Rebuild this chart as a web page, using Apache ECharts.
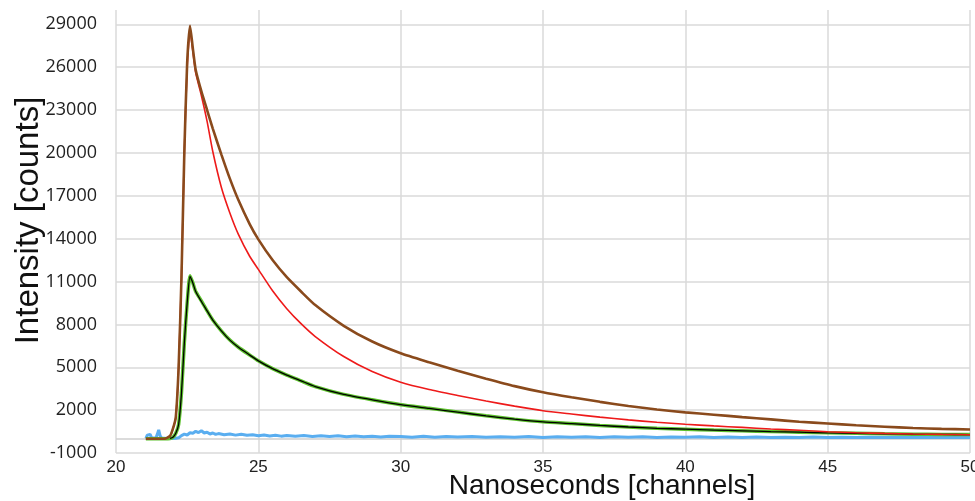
<!DOCTYPE html>
<html>
<head>
<meta charset="utf-8">
<title>Intensity decay</title>
<script src="https://cdn.jsdelivr.net/npm/echarts@6.0.0/dist/echarts.min.js"></script>
<style>
  html, body { margin: 0; padding: 0; background: #fff; }
  #decay { width: 975px; height: 501px; }
</style>
</head>
<body>
<div id="decay"></div>
<script>
// time axis (ns) shared by the brown, red, green and fit curves
var ns = [21.05, 21.4, 21.7, 21.9, 22.0, 22.1, 22.2, 22.3, 22.4, 22.5, 22.6, 22.7, 22.8,
          23.0, 23.2, 23.4, 23.7, 24.0, 24.3, 24.7, 25.0, 25.5, 26.0, 26.5, 27.0,
          28.0, 29.0, 30.0, 31.0, 32.0, 33.0, 34.0, 35.0, 36.0, 37.0, 38.0, 39.0,
          40.0, 41.0, 42.0, 43.0, 44.0, 45.0, 46.0, 47.0, 48.0, 49.0, 50.0];

var brownCounts = [0, 0, 0, 200, 700, 1500, 5000, 11300, 20000, 26300, 28900, 27300, 25800,
                   24300, 23000, 21700, 19900, 18200, 16700, 15000, 13950, 12500, 11300, 10300, 9350,
                   7900, 6800, 5980, 5350, 4750, 4200, 3680, 3250, 2900, 2580, 2290, 2040,
                   1840, 1680, 1510, 1350, 1190, 1065, 940, 840, 750, 690, 645];

var redCounts = [0, 0, 0, 200, 700, 1500, 5000, 11300, 20000, 26000, 28500, 27100, 25600,
                 24000, 22200, 20100, 17600, 15800, 14300, 12750, 11850, 10350, 9100, 8050, 7150,
                 5750, 4700, 3950, 3440, 3030, 2640, 2280, 1960, 1730, 1510, 1320, 1150,
                 1015, 895, 790, 680, 590, 490, 420, 370, 330, 300, 280];

var greenCounts = [0, 0, 0, 20, 100, 380, 1000, 3200, 6700, 9500, 11400, 10900, 10300,
                   9650, 8950, 8300, 7550, 6900, 6400, 5850, 5450, 4900, 4450, 4050, 3650,
                   3100, 2720, 2380, 2130, 1870, 1600, 1370, 1180, 1060, 930, 820, 730,
                   665, 605, 560, 500, 460, 410, 375, 345, 320, 300, 290];

var fitCounts = [null, null, null, 20, 100, 380, 1000, 3200, 6700, 9500, 11350, 10900, 10300,
                 9600, 8950, 8300, 7550, 6900, 6400, 5850, 5450, 4900, 4450, 4050, 3650,
                 3100, 2720, 2380, 2120, 1860, 1600, 1370, 1180, 1060, 930, 820, 730,
                 665, 605, 555, 500, 455, 410, 375, 345, 320, 300, 290];

// background / instrument response (blue)
var blueNs = [21.05, 21.1, 21.15, 21.2, 21.25, 21.3, 21.4, 21.45, 21.5, 21.55, 21.6, 21.7,
              21.8, 21.9, 22.0, 22.1, 22.2, 22.3, 22.4, 22.5, 22.6, 22.7, 22.8, 22.9,
              23.0, 23.1, 23.2, 23.3, 23.4, 23.5, 23.6, 23.8, 24.0, 24.2, 24.4, 24.6,
              24.8, 25.0, 25.2, 25.4, 25.6, 25.8, 26.0, 26.3, 26.6, 26.9, 27.2, 27.5,
              27.8, 28.1, 28.4, 28.7, 29.0, 29.3, 29.6, 30.0, 30.4, 30.8, 31.2, 31.6,
              32.0, 32.5, 33.0, 33.5, 34.0, 34.5, 35.0, 35.5, 36.0, 36.5, 37.0, 37.5,
              38.0, 38.5, 39.0, 39.5, 40.0, 40.5, 41.0, 41.5, 42.0, 42.5, 43.0, 43.5,
              44.0, 44.5, 45.0, 45.5, 46.0, 46.5, 47.0, 47.5, 48.0, 48.5, 49.0, 49.5, 50.0];
var blueCounts = [30, 250, 380, 300, 60, 40, 50, 300, 620, 200, 40, 30,
                  20, 20, 20, 30, 60, 220, 320, 260, 420, 380, 520, 430,
                  560, 400, 460, 330, 400, 300, 360, 280, 330, 250, 310, 240,
                  270, 200, 260, 190, 240, 180, 230, 170, 220, 160, 210, 150,
                  200, 140, 190, 130, 180, 120, 170, 160, 110, 170, 100, 150,
                  120, 160, 100, 140, 110, 150, 90, 140, 100, 130, 90, 140,
                  100, 130, 90, 120, 100, 130, 80, 120, 90, 120, 80, 110,
                  90, 120, 80, 110, 90, 110, 80, 100, 80, 110, 80, 100, 90];

var yTicks = [-1000, 29000, 3000];   // min, last labelled tick, step
var xTicks = [20, 50, 5];

function pairs(xs, ys) {
    return xs.map(function (x, i) { return [x, ys[i]]; });
}

(function(){

var decay = echarts.init(document.getElementById("decay"));

var gridColor = '#dadada';

option = {
    animation: false,
    backgroundColor: '#fff',
    grid: {
        left: 116,
        right: 5,
        top: 10,
        bottom: 48,
        containLabel: false,
        outerBoundsMode: 'none'
    },
    xAxis: {
        type: 'value',
        min: xTicks[0],
        max: xTicks[1],
        interval: xTicks[2],
        name: 'Nanoseconds [channels]',
        nameLocation: 'middle',
        nameGap: 19,
        nameMoveOverlap: false,
        nameTextStyle: {
            fontFamily: 'Liberation Sans, Arial, sans-serif',
            fontSize: 28,
            color: '#111',
            padding: [0, 0, 0, 118]
        },
        axisLine: { show: false },
        axisTick: { show: false },
        axisLabel: {
            margin: 6,
            fontFamily: 'Liberation Sans, Arial, sans-serif',
            fontSize: 17,
            color: '#222'
        },
        splitLine: {
            show: true,
            lineStyle: { color: gridColor, width: 1.5 }
        }
    },
    yAxis: {
        type: 'value',
        min: yTicks[0],
        max: yTicks[1] + 1000,
        interval: yTicks[2],
        name: 'Intensity [counts]',
        nameLocation: 'middle',
        nameGap: 71,
        nameMoveOverlap: false,
        nameTextStyle: {
            fontFamily: 'Liberation Sans, Arial, sans-serif',
            fontSize: 33,
            color: '#111',
            padding: [0, 0, 0, 22]
        },
        axisLine: { show: false },
        axisTick: { show: false },
        axisLabel: {
            margin: 19,
            showMaxLabel: false,
            fontFamily: 'Open Sans, sans-serif',
            fontSize: 18,
            color: '#222',
            formatter: function (v) { return String(v); }
        },
        splitLine: {
            show: true,
            showMaxLine: false,
            lineStyle: { color: gridColor, width: 1.5 }
        }
    },
    series: [
        {
            name: 'background',
            type: 'line',
            showSymbol: false,
            data: pairs(blueNs, blueCounts),
            lineStyle: { color: '#5aaef0', width: 3 },
            z: 2,
            markLine: {
                silent: true,
                symbol: 'none',
                label: { show: false },
                lineStyle: { color: '#cfcfcf', width: 1.5, type: 'solid' },
                data: [{ yAxis: 0 }],
                z: 1
            }
        },
        {
            name: 'sample',
            type: 'line',
            showSymbol: false,
            smooth: 0.2,
            data: pairs(ns, greenCounts),
            lineStyle: { color: '#5cc02c', width: 3.5 },
            z: 3
        },
        {
            name: 'fit',
            type: 'line',
            showSymbol: false,
            smooth: 0.2,
            data: pairs(ns, fitCounts),
            lineStyle: { color: '#000', width: 1.3 },
            z: 4
        },
        {
            name: 'reference',
            type: 'line',
            showSymbol: false,
            smooth: 0.2,
            data: pairs(ns, redCounts),
            lineStyle: { color: '#ee1a1a', width: 1.6 },
            z: 5
        },
        {
            name: 'total',
            type: 'line',
            showSymbol: false,
            smooth: 0.2,
            data: pairs(ns, brownCounts),
            lineStyle: { color: '#8a4a1c', width: 2.6 },
            z: 6
        }
    ]
};

decay.setOption(option);
})();
</script>
</body>
</html>
